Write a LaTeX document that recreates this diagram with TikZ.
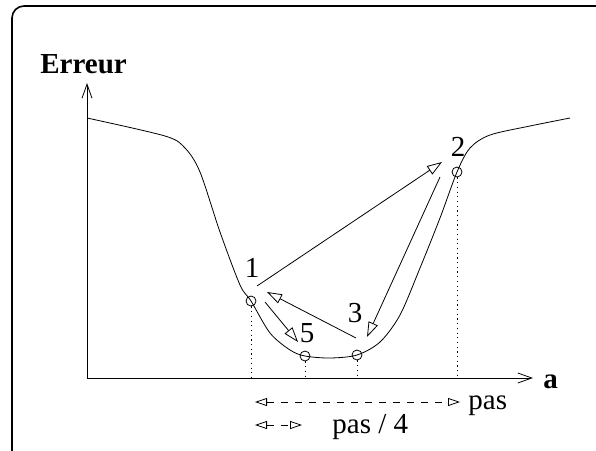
\documentclass[tikz,border=0pt]{standalone}
\usepackage{fontspec}
\setmainfont{Liberation Serif}
\usetikzlibrary{arrows.meta}
\tikzset{
  pt/.style={circle, draw, inner sep=0pt, minimum size=10pt},
  lbl/.style={font=\fontsize{29}{30}\selectfont, inner sep=0pt},
  jump/.style={-{Triangle[open,length=15pt,width=10pt]}},
  axis/.style={-{Straight Barb[length=14pt,width=10pt]}},
  guide/.style={dash pattern=on 1.2pt off 3.5pt},
  span/.style={{Triangle[open,length=12pt,width=8pt]}-{Triangle[open,length=12pt,width=8pt]}, dash pattern=on 7pt off 7pt},
}
\begin{document}
\begin{tikzpicture}[x=1pt,y=-1pt,line width=0.8pt]
\useasboundingbox (0,0) rectangle (596,450);
\draw[line width=1.6pt, rounded corners=12pt] (12,6) rectangle (614,464);

% axes
\coordinate (O) at (87,378);
\coordinate (ytip) at (87,83);
\coordinate (xtip) at (533,378);
\draw[axis] (O) -- (ytip);
\draw[axis] (O) -- (xtip);
\node[lbl, anchor=base west, font=\fontsize{29}{30}\selectfont\bfseries] (err) at (40,73) {Erreur};
\node[lbl, anchor=base west, font=\fontsize{29}{30}\selectfont\bfseries] (xa) at (543,388) {a};

% curve
\draw plot[smooth] coordinates {(87,118) (165,136) (185,148) (200,172) (220,232) (240,285) (251,301) (270,333) (290,350) (305,356) (330,358) (357,355) (380,342) (400,315) (420,268) (440,218) (457,172) (470,148) (490,135) (530,126) (570,118)};

% points
\node[pt] (c1) at (251,301) {};
\node[pt] (c5) at (305,356) {};
\node[pt] (c3) at (357,355) {};
\node[pt] (c2) at (457,172) {};

% guides
\coordinate (f1) at (251,378);
\coordinate (f5) at (305,378);
\coordinate (f3) at (357,378);
\coordinate (f2) at (457,378);
\draw[guide] (c1.south) -- (f1);
\draw[guide] (c5.south) -- (f5);
\draw[guide] (c3.south) -- (f3);
\draw[guide] (c2.south) -- (f2);

% labels
\node[lbl] (l1) at (252,268) {1};
\node[lbl] (l5) at (307,333) {5};
\node[lbl] (l3) at (355,313) {3};
\node[lbl] (l2) at (458,147) {2};

% steps
\coordinate (s12) at (257,286);
\coordinate (e12) at (442,162);
\coordinate (s23) at (440,177);
\coordinate (e23) at (367,337);
\coordinate (s31) at (356,338);
\coordinate (e31) at (267,292);
\coordinate (s15) at (265,302);
\coordinate (e15) at (298,342);
\draw[jump] (s12) -- (e12);
\draw[jump] (s23) -- (e23);
\draw[jump] (s31) -- (e31);
\draw[jump] (s15) -- (e15);

% step sizes
\coordinate (pa) at (255,402);
\coordinate (pb) at (460,402);
\coordinate (qa) at (255,425);
\coordinate (qb) at (302,425);
\draw[span] (pa) -- (pb);
\draw[span] (qa) -- (qb);
\node[lbl, anchor=base west] (tp) at (468,409) {pas};
\node[lbl, anchor=base west] (tq) at (332,433) {pas / 4};
\end{tikzpicture}
\end{document}
